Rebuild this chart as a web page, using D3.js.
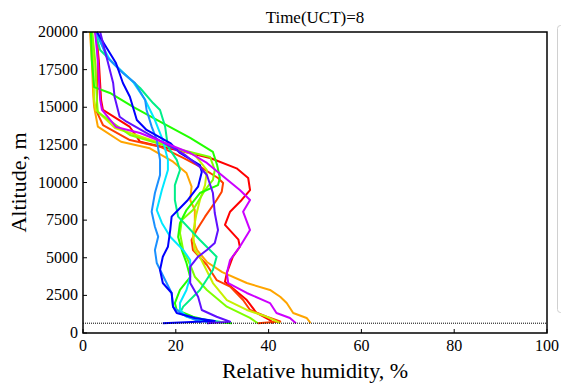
<!DOCTYPE html>
<html>
<head>
<meta charset="utf-8">
<script src="https://cdn.jsdelivr.net/npm/d3@7"></script>
</head>
<body style="margin:0">
<svg id="chart" width="561" height="391"></svg>
<script>
// ---- data (relative humidity %, altitude m) ----
const title = "Time(UCT)=8";
const xLabel = "Relative humidity, %";
const yLabel = "Altitude, m";
const xTicks = [0, 20, 40, 60, 80, 100];
const yTicks = [0, 2500, 5000, 7500, 10000, 12500, 15000, 17500, 20000];
const groundAlt = 650;

const seriesNames = ["red", "orangered", "orange", "yellowgreen", "greenB", "greenA", "spring", "cyan", "dodger", "blue", "violet", "magenta"];

const altRed = [20000,18140,15480,14820,14490,13690,12710,12050,11630,10940,10300,9500,8840,8060,7180,6200,5730,5070,3990,3410,2190,1330,860,650];
const rhRed  = [2.8,3.4,3.9,4.3,6.0,10.1,12.3,21.6,27.4,33.1,35.6,36.0,34.2,31.7,30.6,33.5,33.8,32.3,31.0,30.6,35.3,37.4,40.3,41.0];

const altOrangeRed = [20000,18140,15480,14680,13820,12820,12380,11630,11050,10300,9970,9390,8840,7730,6840,6180,5510,4520,3520,3080,2190,1530,1080,760,650];
const rhOrangeRed  = [3.0,3.2,3.0,3.0,4.3,10.1,16.6,21.6,25.2,29.1,30.2,29.9,28.8,26.3,24.5,23.4,23.7,26.7,28.8,31.7,34.5,36.0,39.6,42.5,37.7];

const altOrange = [20000,18140,15810,15020,13710,12710,12270,11380,10630,9720,8840,8170,7060,6180,5510,4720,4050,3320,2860,2410,1990,1330,1000,730,650];
const rhOrange  = [1.5,1.9,2.2,2.4,3.2,8.2,14.4,19.4,22.3,23.4,23.1,24.1,24.1,23.7,24.6,26.7,30.0,35.3,40.3,42.5,43.9,45.3,48.2,48.9,48.9];

const altYellowGreen = [20000,18140,15480,14820,13620,12620,11830,10830,9830,8840,7840,6640,5510,5050,3320,2190,1530,1080,650];
const rhYellowGreen  = [1.9,2.2,2.4,2.8,6.9,16.6,24.1,26.7,26.3,25.2,24.4,23.7,24.1,25.2,28.0,31.0,35.3,39.6,42.5];

const altGreenB = [20000,18140,15480,14680,13160,12360,11690,10830,10170,9500,8170,7510,6640,5510,4520,3740,2860,1750,1000,650];
const rhGreenB  = [2.0,2.6,3.0,3.2,10.1,18.8,27.4,28.4,28.0,26.3,23.7,21.3,20.9,21.6,23.1,24.1,26.7,31.0,36.0,37.7];

const altGreenA = [20000,18140,16340,15950,15020,13950,12960,12030,11160,10300,9830,9300,8170,7310,6380,5510,4650,3720,2860,1990,1530,1080,750,650];
const rhGreenA  = [1.7,1.9,2.4,5.8,10.8,17.2,23.1,28.0,28.9,29.5,29.1,25.2,22.3,20.9,20.5,21.3,22.3,23.1,20.9,19.8,20.2,23.7,28.0,32.1];

const altSpring = [20000,18800,17470,16280,15280,14820,13710,12380,11500,10830,9830,8840,7730,6180,5070,4190,2860,1750,1330,1000,750,650];
const rhSpring  = [2.6,3.7,8.0,12.3,15.1,16.6,17.7,18.3,20.2,20.9,19.8,19.8,20.5,25.2,28.8,28.0,25.2,21.6,20.9,23.7,29.5,29.5];

const altCyan = [20000,18140,16680,15480,14150,12820,11500,10830,9500,8170,7310,6400,5510,4850,3740,2860,1990,1530,1080,750,650];
const rhCyan  = [2.6,5.8,10.8,13.4,15.5,17.2,18.3,18.3,17.0,15.9,17.0,18.8,21.6,23.1,23.1,22.3,20.9,20.9,22.3,26.7,26.7];

const altDodger = [20000,18360,17280,16610,15480,14820,13710,12820,11500,10500,9300,8060,7060,6400,5510,4650,3520,2660,1750,1200,750,650];
const rhDodger  = [2.9,5.1,8.6,11.2,13.4,13.7,14.8,15.9,16.6,16.6,15.5,14.8,15.5,16.2,15.5,15.9,17.7,19.1,19.4,21.6,25.2,25.2];

const altBlue = [20000,17940,16610,15700,14150,13490,12620,11960,11160,10700,9720,8840,8170,7730,6840,5730,5070,4190,3320,2660,1750,1330,1000,800,650];
const rhBlue  = [3.0,7.1,8.6,10.1,11.6,13.7,18.8,20.9,25.2,25.6,24.8,22.6,20.5,19.1,18.8,18.3,17.2,16.6,17.2,19.1,19.4,20.2,24.1,28.4,17.2];

const altViolet = [20000,17940,16610,15700,14370,14040,13160,11830,11030,10500,9300,7970,6840,5980,5510,5070,4410,3320,2410,1530,1080,750,650];
const rhViolet  = [3.7,5.4,6.5,6.8,7.9,9.4,14.4,22.0,25.2,26.7,28.0,28.4,29.1,28.4,26.7,24.8,23.1,23.1,24.8,25.6,28.8,31.7,26.7];

const altMagenta = [20000,18140,15480,14820,13690,13290,11960,11300,9500,8840,8060,6840,5730,4850,3990,3320,2660,1990,1330,1000,650];
const rhMagenta  = [2.6,3.2,3.7,4.1,7.1,12.3,23.1,26.7,33.8,36.0,34.5,36.0,33.8,31.7,31.0,31.3,35.3,40.3,41.7,44.6,45.9];

const seriesAlt = [altRed, altOrangeRed, altOrange, altYellowGreen, altGreenB, altGreenA, altSpring, altCyan, altDodger, altBlue, altViolet, altMagenta];
const seriesRh  = [rhRed, rhOrangeRed, rhOrange, rhYellowGreen, rhGreenB, rhGreenA, rhSpring, rhCyan, rhDodger, rhBlue, rhViolet, rhMagenta];

// ---- styles ----
const colors = ["#ff0000", "#ff4000", "#ffa500", "#c8f000", "#80ff00", "#22ff00", "#00ee88", "#00e8ff", "#1a90ff", "#0000ff", "#6010ff", "#cc00ff"];
const FONT = "Liberation Serif";

const svg = d3.select("#chart");
const M = { left: 83, right: 547, top: 32, bottom: 333 };

const x = d3.scaleLinear().domain([0, 100]).range([M.left, M.right]);
const y = d3.scaleLinear().domain([0, 20000]).range([M.bottom, M.top]);

// text first (serif), built without d3-axis
svg.append("text")
  .attr("x", (M.left + M.right) / 2).attr("y", 23)
  .attr("text-anchor", "middle")
  .attr("font-family", FONT).attr("font-size", 17)
  .text(title);

svg.append("text")
  .attr("x", (M.left + M.right) / 2).attr("y", 378)
  .attr("text-anchor", "middle")
  .attr("font-family", FONT).attr("font-size", 22)
  .text(xLabel);

svg.append("text")
  .attr("transform", "translate(26," + ((M.top + M.bottom) / 2) + ") rotate(-90)")
  .attr("text-anchor", "middle")
  .attr("font-family", FONT).attr("font-size", 22)
  .text(yLabel);

svg.selectAll("text.xt").data(xTicks).enter().append("text")
  .attr("class", "xt")
  .attr("x", d => x(d)).attr("y", M.bottom + 18)
  .attr("text-anchor", "middle")
  .attr("font-family", FONT).attr("font-size", 16)
  .text(d => d);

svg.selectAll("text.yt").data(yTicks).enter().append("text")
  .attr("class", "yt")
  .attr("x", M.left - 5).attr("y", d => y(d) + 5)
  .attr("text-anchor", "end")
  .attr("font-family", FONT).attr("font-size", 16)
  .text(d => d);

// tick marks (inward)
svg.selectAll("line.xtk").data(xTicks).enter().append("line")
  .attr("x1", d => x(d)).attr("x2", d => x(d))
  .attr("y1", M.bottom).attr("y2", M.bottom - 4)
  .attr("stroke", "#000").attr("stroke-width", 1);
svg.selectAll("line.ytk").data(yTicks).enter().append("line")
  .attr("x1", M.left).attr("x2", M.left + 4)
  .attr("y1", d => y(d)).attr("y2", d => y(d))
  .attr("stroke", "#000").attr("stroke-width", 1);

// series
const line = d3.line().x(d => x(d[0])).y(d => y(d[1]));
seriesNames.forEach((name, i) => {
  const pts = seriesRh[i].map((v, j) => [v, seriesAlt[i][j]]);
  svg.append("path")
    .datum(pts)
    .attr("d", line)
    .attr("fill", "none")
    .attr("stroke", colors[i])
    .attr("stroke-width", 2)
    .attr("stroke-linejoin", "round");
});

// ground dotted line
svg.append("line")
  .attr("x1", x(0)).attr("x2", x(100))
  .attr("y1", y(groundAlt)).attr("y2", y(groundAlt))
  .attr("stroke", "#000").attr("stroke-width", 1)
  .attr("stroke-dasharray", "1,1");

// frame
svg.append("rect")
  .attr("x", M.left).attr("y", M.top)
  .attr("width", M.right - M.left).attr("height", M.bottom - M.top)
  .attr("fill", "none").attr("stroke", "#000").attr("stroke-width", 1.5);

// legend box (cut off at the right edge)
svg.append("rect")
  .attr("x", 557.5).attr("y", 25.5)
  .attr("width", 60).attr("height", 287)
  .attr("rx", 3)
  .attr("fill", "#fff").attr("stroke", "#d0d0d0").attr("stroke-width", 1);
</script>
</body>
</html>
